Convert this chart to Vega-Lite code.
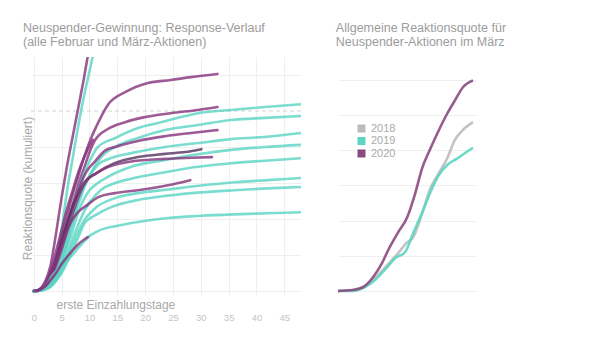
{
  "$schema": "https://vega.github.io/schema/vega-lite/v6.json",
  "background": "white",
  "padding": {"left": 21, "top": 21, "right": 5, "bottom": 5},
  "config": {
    "view": {"stroke": null},
    "font": "Liberation Sans",
    "axis": {"gridColor": "#efefef", "domain": false, "ticks": false},
    "title": {"color": "#9c9c9c", "fontSize": 12.5, "fontWeight": "normal", "anchor": "start", "lineHeight": 14, "offset": 9}
  },
  "datasets": {
    "links": [
      {"id": "P1", "typ": "p", "d": 0, "v": 0}, {"id": "P1", "typ": "p", "d": 1, "v": 0.05}, {"id": "P1", "typ": "p", "d": 2, "v": 0.25}, {"id": "P1", "typ": "p", "d": 3, "v": 0.7}, {"id": "P1", "typ": "p", "d": 4, "v": 1.6}, {"id": "P1", "typ": "p", "d": 5, "v": 2.6}, {"id": "P1", "typ": "p", "d": 6, "v": 3.5}, {"id": "P1", "typ": "p", "d": 7, "v": 4.3}, {"id": "P1", "typ": "p", "d": 8, "v": 5.1}, {"id": "P1", "typ": "p", "d": 9, "v": 5.9}, {"id": "P1", "typ": "p", "d": 10, "v": 6.8},
      {"id": "T1", "typ": "t", "d": 0, "v": 0}, {"id": "T1", "typ": "t", "d": 1, "v": 0.02}, {"id": "T1", "typ": "t", "d": 2, "v": 0.1}, {"id": "T1", "typ": "t", "d": 3, "v": 0.35}, {"id": "T1", "typ": "t", "d": 4, "v": 0.9}, {"id": "T1", "typ": "t", "d": 5, "v": 1.7}, {"id": "T1", "typ": "t", "d": 6, "v": 2.8}, {"id": "T1", "typ": "t", "d": 7, "v": 3.7}, {"id": "T1", "typ": "t", "d": 8, "v": 4.6}, {"id": "T1", "typ": "t", "d": 9, "v": 5.4}, {"id": "T1", "typ": "t", "d": 10, "v": 6.1}, {"id": "T1", "typ": "t", "d": 11, "v": 6.8},
      {"id": "P2", "typ": "p", "d": 0, "v": 0}, {"id": "P2", "typ": "p", "d": 1, "v": 0.02}, {"id": "P2", "typ": "p", "d": 2, "v": 0.15}, {"id": "P2", "typ": "p", "d": 3, "v": 0.45}, {"id": "P2", "typ": "p", "d": 4, "v": 0.9}, {"id": "P2", "typ": "p", "d": 5, "v": 1.5}, {"id": "P2", "typ": "p", "d": 6, "v": 2.1}, {"id": "P2", "typ": "p", "d": 7, "v": 2.7}, {"id": "P2", "typ": "p", "d": 8, "v": 3.2}, {"id": "P2", "typ": "p", "d": 9, "v": 3.7}, {"id": "P2", "typ": "p", "d": 10.3, "v": 4.25}, {"id": "P2", "typ": "p", "d": 11.2, "v": 4.56}, {"id": "P2", "typ": "p", "d": 13.3, "v": 5.17}, {"id": "P2", "typ": "p", "d": 16.5, "v": 5.53}, {"id": "P2", "typ": "p", "d": 20.5, "v": 5.78}, {"id": "P2", "typ": "p", "d": 24.6, "v": 5.86}, {"id": "P2", "typ": "p", "d": 28.2, "v": 5.94}, {"id": "P2", "typ": "p", "d": 33, "v": 6.03},
      {"id": "P3", "typ": "p", "d": 0, "v": 0}, {"id": "P3", "typ": "p", "d": 1, "v": 0.02}, {"id": "P3", "typ": "p", "d": 2, "v": 0.12}, {"id": "P3", "typ": "p", "d": 3, "v": 0.35}, {"id": "P3", "typ": "p", "d": 4, "v": 0.75}, {"id": "P3", "typ": "p", "d": 5, "v": 1.25}, {"id": "P3", "typ": "p", "d": 6, "v": 1.8}, {"id": "P3", "typ": "p", "d": 7, "v": 2.4}, {"id": "P3", "typ": "p", "d": 8, "v": 2.95}, {"id": "P3", "typ": "p", "d": 9, "v": 3.4}, {"id": "P3", "typ": "p", "d": 10, "v": 3.85}, {"id": "P3", "typ": "p", "d": 11, "v": 4.19}, {"id": "P3", "typ": "p", "d": 13.3, "v": 4.5}, {"id": "P3", "typ": "p", "d": 16.4, "v": 4.69}, {"id": "P3", "typ": "p", "d": 19.9, "v": 4.83}, {"id": "P3", "typ": "p", "d": 24.6, "v": 4.94}, {"id": "P3", "typ": "p", "d": 29.5, "v": 5.03}, {"id": "P3", "typ": "p", "d": 33, "v": 5.11},
      {"id": "T2", "typ": "t", "d": 0, "v": 0}, {"id": "T2", "typ": "t", "d": 1, "v": 0.01}, {"id": "T2", "typ": "t", "d": 2, "v": 0.08}, {"id": "T2", "typ": "t", "d": 3, "v": 0.25}, {"id": "T2", "typ": "t", "d": 4, "v": 0.6}, {"id": "T2", "typ": "t", "d": 5, "v": 1.1}, {"id": "T2", "typ": "t", "d": 6, "v": 1.7}, {"id": "T2", "typ": "t", "d": 7, "v": 2.3}, {"id": "T2", "typ": "t", "d": 8, "v": 2.8}, {"id": "T2", "typ": "t", "d": 9, "v": 3.25}, {"id": "T2", "typ": "t", "d": 10, "v": 3.6}, {"id": "T2", "typ": "t", "d": 11.5, "v": 4}, {"id": "T2", "typ": "t", "d": 14.6, "v": 4.25}, {"id": "T2", "typ": "t", "d": 18.7, "v": 4.53}, {"id": "T2", "typ": "t", "d": 22.3, "v": 4.67}, {"id": "T2", "typ": "t", "d": 25.9, "v": 4.81}, {"id": "T2", "typ": "t", "d": 29.5, "v": 4.94}, {"id": "T2", "typ": "t", "d": 35.4, "v": 5.03}, {"id": "T2", "typ": "t", "d": 41.5, "v": 5.11}, {"id": "T2", "typ": "t", "d": 48, "v": 5.19},
      {"id": "T3", "typ": "t", "d": 0, "v": 0}, {"id": "T3", "typ": "t", "d": 1, "v": 0.01}, {"id": "T3", "typ": "t", "d": 2, "v": 0.06}, {"id": "T3", "typ": "t", "d": 3, "v": 0.2}, {"id": "T3", "typ": "t", "d": 4, "v": 0.45}, {"id": "T3", "typ": "t", "d": 5, "v": 0.85}, {"id": "T3", "typ": "t", "d": 6, "v": 1.35}, {"id": "T3", "typ": "t", "d": 7, "v": 1.9}, {"id": "T3", "typ": "t", "d": 8, "v": 2.4}, {"id": "T3", "typ": "t", "d": 9, "v": 2.85}, {"id": "T3", "typ": "t", "d": 10, "v": 3.2}, {"id": "T3", "typ": "t", "d": 12, "v": 3.7}, {"id": "T3", "typ": "t", "d": 14.6, "v": 4}, {"id": "T3", "typ": "t", "d": 18.7, "v": 4.25}, {"id": "T3", "typ": "t", "d": 23.6, "v": 4.47}, {"id": "T3", "typ": "t", "d": 29.5, "v": 4.61}, {"id": "T3", "typ": "t", "d": 35.4, "v": 4.75}, {"id": "T3", "typ": "t", "d": 41.5, "v": 4.81}, {"id": "T3", "typ": "t", "d": 48, "v": 4.86},
      {"id": "P4", "typ": "p", "d": 0, "v": 0}, {"id": "P4", "typ": "p", "d": 1, "v": 0.03}, {"id": "P4", "typ": "p", "d": 2, "v": 0.15}, {"id": "P4", "typ": "p", "d": 3, "v": 0.4}, {"id": "P4", "typ": "p", "d": 4, "v": 0.8}, {"id": "P4", "typ": "p", "d": 5, "v": 1.3}, {"id": "P4", "typ": "p", "d": 6, "v": 1.85}, {"id": "P4", "typ": "p", "d": 7, "v": 2.35}, {"id": "P4", "typ": "p", "d": 8, "v": 2.8}, {"id": "P4", "typ": "p", "d": 9.4, "v": 3.3}, {"id": "P4", "typ": "p", "d": 11, "v": 3.6}, {"id": "P4", "typ": "p", "d": 12.8, "v": 3.9}, {"id": "P4", "typ": "p", "d": 14.6, "v": 4.0}, {"id": "P4", "typ": "p", "d": 18.7, "v": 4.17}, {"id": "P4", "typ": "p", "d": 23.6, "v": 4.3}, {"id": "P4", "typ": "p", "d": 28.3, "v": 4.39}, {"id": "P4", "typ": "p", "d": 33, "v": 4.47},
      {"id": "T4", "typ": "t", "d": 0, "v": 0}, {"id": "T4", "typ": "t", "d": 1, "v": 0.01}, {"id": "T4", "typ": "t", "d": 2, "v": 0.07}, {"id": "T4", "typ": "t", "d": 3, "v": 0.22}, {"id": "T4", "typ": "t", "d": 4, "v": 0.5}, {"id": "T4", "typ": "t", "d": 5, "v": 0.9}, {"id": "T4", "typ": "t", "d": 6, "v": 1.45}, {"id": "T4", "typ": "t", "d": 7, "v": 2.0}, {"id": "T4", "typ": "t", "d": 8, "v": 2.5}, {"id": "T4", "typ": "t", "d": 9, "v": 2.9}, {"id": "T4", "typ": "t", "d": 10, "v": 3.2}, {"id": "T4", "typ": "t", "d": 11.5, "v": 3.5}, {"id": "T4", "typ": "t", "d": 14, "v": 3.7}, {"id": "T4", "typ": "t", "d": 17.5, "v": 3.83}, {"id": "T4", "typ": "t", "d": 23.6, "v": 4}, {"id": "T4", "typ": "t", "d": 29.5, "v": 4.11}, {"id": "T4", "typ": "t", "d": 35.4, "v": 4.22}, {"id": "T4", "typ": "t", "d": 41.5, "v": 4.28}, {"id": "T4", "typ": "t", "d": 48, "v": 4.39},
      {"id": "T5", "typ": "t", "d": 0, "v": 0}, {"id": "T5", "typ": "t", "d": 1, "v": 0.01}, {"id": "T5", "typ": "t", "d": 2, "v": 0.05}, {"id": "T5", "typ": "t", "d": 3, "v": 0.18}, {"id": "T5", "typ": "t", "d": 4, "v": 0.4}, {"id": "T5", "typ": "t", "d": 5, "v": 0.75}, {"id": "T5", "typ": "t", "d": 6, "v": 1.2}, {"id": "T5", "typ": "t", "d": 7, "v": 1.7}, {"id": "T5", "typ": "t", "d": 8, "v": 2.2}, {"id": "T5", "typ": "t", "d": 9, "v": 2.55}, {"id": "T5", "typ": "t", "d": 10, "v": 2.8}, {"id": "T5", "typ": "t", "d": 11.5, "v": 3.0}, {"id": "T5", "typ": "t", "d": 13.3, "v": 3.17}, {"id": "T5", "typ": "t", "d": 17.5, "v": 3.45}, {"id": "T5", "typ": "t", "d": 23.6, "v": 3.64}, {"id": "T5", "typ": "t", "d": 29.5, "v": 3.8}, {"id": "T5", "typ": "t", "d": 35.4, "v": 3.92}, {"id": "T5", "typ": "t", "d": 41.5, "v": 4}, {"id": "T5", "typ": "t", "d": 48, "v": 4.06},
      {"id": "D1", "typ": "d", "d": 0, "v": 0}, {"id": "D1", "typ": "d", "d": 1, "v": 0.03}, {"id": "D1", "typ": "d", "d": 2, "v": 0.15}, {"id": "D1", "typ": "d", "d": 3, "v": 0.45}, {"id": "D1", "typ": "d", "d": 4, "v": 0.9}, {"id": "D1", "typ": "d", "d": 5, "v": 1.4}, {"id": "D1", "typ": "d", "d": 6, "v": 1.9}, {"id": "D1", "typ": "d", "d": 7, "v": 2.35}, {"id": "D1", "typ": "d", "d": 8, "v": 2.7}, {"id": "D1", "typ": "d", "d": 9, "v": 3.0}, {"id": "D1", "typ": "d", "d": 11, "v": 3.25}, {"id": "D1", "typ": "d", "d": 14.6, "v": 3.56}, {"id": "D1", "typ": "d", "d": 18.7, "v": 3.72}, {"id": "D1", "typ": "d", "d": 23.6, "v": 3.81}, {"id": "D1", "typ": "d", "d": 27.2, "v": 3.86}, {"id": "D1", "typ": "d", "d": 30.1, "v": 3.94},
      {"id": "P5", "typ": "p", "d": 0, "v": 0}, {"id": "P5", "typ": "p", "d": 1, "v": 0.03}, {"id": "P5", "typ": "p", "d": 2, "v": 0.12}, {"id": "P5", "typ": "p", "d": 3, "v": 0.35}, {"id": "P5", "typ": "p", "d": 4, "v": 0.7}, {"id": "P5", "typ": "p", "d": 5, "v": 1.15}, {"id": "P5", "typ": "p", "d": 6, "v": 1.65}, {"id": "P5", "typ": "p", "d": 7, "v": 2.15}, {"id": "P5", "typ": "p", "d": 8, "v": 2.6}, {"id": "P5", "typ": "p", "d": 9, "v": 2.95}, {"id": "P5", "typ": "p", "d": 10, "v": 3.15}, {"id": "P5", "typ": "p", "d": 11, "v": 3.25}, {"id": "P5", "typ": "p", "d": 13.3, "v": 3.44}, {"id": "P5", "typ": "p", "d": 17.5, "v": 3.6}, {"id": "P5", "typ": "p", "d": 23.6, "v": 3.67}, {"id": "P5", "typ": "p", "d": 28.3, "v": 3.7}, {"id": "P5", "typ": "p", "d": 32, "v": 3.72},
      {"id": "T6", "typ": "t", "d": 0, "v": 0}, {"id": "T6", "typ": "t", "d": 1, "v": 0.01}, {"id": "T6", "typ": "t", "d": 2, "v": 0.05}, {"id": "T6", "typ": "t", "d": 3, "v": 0.15}, {"id": "T6", "typ": "t", "d": 4, "v": 0.35}, {"id": "T6", "typ": "t", "d": 5, "v": 0.65}, {"id": "T6", "typ": "t", "d": 6, "v": 1.0}, {"id": "T6", "typ": "t", "d": 7, "v": 1.45}, {"id": "T6", "typ": "t", "d": 8, "v": 1.85}, {"id": "T6", "typ": "t", "d": 9, "v": 2.2}, {"id": "T6", "typ": "t", "d": 10, "v": 2.45}, {"id": "T6", "typ": "t", "d": 12, "v": 2.8}, {"id": "T6", "typ": "t", "d": 14.6, "v": 3.0}, {"id": "T6", "typ": "t", "d": 17.5, "v": 3.12}, {"id": "T6", "typ": "t", "d": 23.6, "v": 3.3}, {"id": "T6", "typ": "t", "d": 29.5, "v": 3.45}, {"id": "T6", "typ": "t", "d": 35.4, "v": 3.55}, {"id": "T6", "typ": "t", "d": 41.5, "v": 3.62}, {"id": "T6", "typ": "t", "d": 48, "v": 3.69},
      {"id": "P6", "typ": "p", "d": 0, "v": 0}, {"id": "P6", "typ": "p", "d": 1, "v": 0.04}, {"id": "P6", "typ": "p", "d": 2, "v": 0.18}, {"id": "P6", "typ": "p", "d": 3, "v": 0.45}, {"id": "P6", "typ": "p", "d": 4, "v": 0.85}, {"id": "P6", "typ": "p", "d": 5, "v": 1.3}, {"id": "P6", "typ": "p", "d": 6, "v": 1.7}, {"id": "P6", "typ": "p", "d": 7, "v": 2.0}, {"id": "P6", "typ": "p", "d": 8, "v": 2.2}, {"id": "P6", "typ": "p", "d": 9.7, "v": 2.4}, {"id": "P6", "typ": "p", "d": 11.5, "v": 2.6}, {"id": "P6", "typ": "p", "d": 14.6, "v": 2.72}, {"id": "P6", "typ": "p", "d": 18.7, "v": 2.8}, {"id": "P6", "typ": "p", "d": 24.1, "v": 2.94}, {"id": "P6", "typ": "p", "d": 28.1, "v": 3.08},
      {"id": "T7", "typ": "t", "d": 0, "v": 0}, {"id": "T7", "typ": "t", "d": 1, "v": 0.01}, {"id": "T7", "typ": "t", "d": 2, "v": 0.04}, {"id": "T7", "typ": "t", "d": 3, "v": 0.12}, {"id": "T7", "typ": "t", "d": 4, "v": 0.3}, {"id": "T7", "typ": "t", "d": 5, "v": 0.55}, {"id": "T7", "typ": "t", "d": 6, "v": 0.9}, {"id": "T7", "typ": "t", "d": 7, "v": 1.3}, {"id": "T7", "typ": "t", "d": 8, "v": 1.65}, {"id": "T7", "typ": "t", "d": 9, "v": 1.95}, {"id": "T7", "typ": "t", "d": 11, "v": 2.3}, {"id": "T7", "typ": "t", "d": 14.6, "v": 2.58}, {"id": "T7", "typ": "t", "d": 18.7, "v": 2.72}, {"id": "T7", "typ": "t", "d": 24.1, "v": 2.82}, {"id": "T7", "typ": "t", "d": 30, "v": 2.93}, {"id": "T7", "typ": "t", "d": 36, "v": 3.02}, {"id": "T7", "typ": "t", "d": 42, "v": 3.08}, {"id": "T7", "typ": "t", "d": 48, "v": 3.14},
      {"id": "T8", "typ": "t", "d": 0, "v": 0}, {"id": "T8", "typ": "t", "d": 1, "v": 0.01}, {"id": "T8", "typ": "t", "d": 2, "v": 0.04}, {"id": "T8", "typ": "t", "d": 3, "v": 0.12}, {"id": "T8", "typ": "t", "d": 4, "v": 0.28}, {"id": "T8", "typ": "t", "d": 5, "v": 0.5}, {"id": "T8", "typ": "t", "d": 6, "v": 0.8}, {"id": "T8", "typ": "t", "d": 7, "v": 1.15}, {"id": "T8", "typ": "t", "d": 8, "v": 1.5}, {"id": "T8", "typ": "t", "d": 9.2, "v": 1.9}, {"id": "T8", "typ": "t", "d": 11, "v": 2.1}, {"id": "T8", "typ": "t", "d": 13.9, "v": 2.33}, {"id": "T8", "typ": "t", "d": 18.7, "v": 2.53}, {"id": "T8", "typ": "t", "d": 24.1, "v": 2.65}, {"id": "T8", "typ": "t", "d": 30, "v": 2.74}, {"id": "T8", "typ": "t", "d": 36, "v": 2.8}, {"id": "T8", "typ": "t", "d": 42, "v": 2.85}, {"id": "T8", "typ": "t", "d": 48, "v": 2.89},
      {"id": "T9", "typ": "t", "d": 0, "v": 0}, {"id": "T9", "typ": "t", "d": 1, "v": 0.01}, {"id": "T9", "typ": "t", "d": 2.6, "v": 0.3}, {"id": "T9", "typ": "t", "d": 4, "v": 0.55}, {"id": "T9", "typ": "t", "d": 6.2, "v": 0.86}, {"id": "T9", "typ": "t", "d": 8, "v": 1.2}, {"id": "T9", "typ": "t", "d": 10.3, "v": 1.56}, {"id": "T9", "typ": "t", "d": 12, "v": 1.7}, {"id": "T9", "typ": "t", "d": 14.6, "v": 1.8}, {"id": "T9", "typ": "t", "d": 18.7, "v": 1.92}, {"id": "T9", "typ": "t", "d": 24.1, "v": 2.03}, {"id": "T9", "typ": "t", "d": 30, "v": 2.09}, {"id": "T9", "typ": "t", "d": 36, "v": 2.13}, {"id": "T9", "typ": "t", "d": 42, "v": 2.16}, {"id": "T9", "typ": "t", "d": 48, "v": 2.19},
      {"id": "P7", "typ": "p", "d": 0.5, "v": 0}, {"id": "P7", "typ": "p", "d": 2, "v": 0.12}, {"id": "P7", "typ": "p", "d": 3, "v": 0.3}, {"id": "P7", "typ": "p", "d": 4, "v": 0.5}, {"id": "P7", "typ": "p", "d": 5, "v": 0.75}, {"id": "P7", "typ": "p", "d": 6.7, "v": 1.08}, {"id": "P7", "typ": "p", "d": 8, "v": 1.3}, {"id": "P7", "typ": "p", "d": 9.7, "v": 1.5},
      {"id": "P8", "typ": "p", "d": 0, "v": 0}, {"id": "P8", "typ": "p", "d": 1, "v": 0.03}, {"id": "P8", "typ": "p", "d": 2, "v": 0.2}, {"id": "P8", "typ": "p", "d": 3, "v": 0.55}, {"id": "P8", "typ": "p", "d": 4, "v": 1.1}, {"id": "P8", "typ": "p", "d": 5, "v": 1.7}, {"id": "P8", "typ": "p", "d": 6, "v": 2.3}, {"id": "P8", "typ": "p", "d": 7, "v": 2.8}, {"id": "P8", "typ": "p", "d": 8, "v": 3.3}, {"id": "P8", "typ": "p", "d": 9, "v": 3.7}, {"id": "P8", "typ": "p", "d": 10.6, "v": 4.2}
    ],
    "rechts": [
      {"jahr": "2018", "d": 0, "v": 0}, {"jahr": "2018", "d": 3, "v": 0.03}, {"jahr": "2018", "d": 5.4, "v": 0.14}, {"jahr": "2018", "d": 7.4, "v": 0.37}, {"jahr": "2018", "d": 9.8, "v": 0.73}, {"jahr": "2018", "d": 12, "v": 1.07}, {"jahr": "2018", "d": 13.8, "v": 1.38}, {"jahr": "2018", "d": 15, "v": 1.52}, {"jahr": "2018", "d": 16.8, "v": 2.19}, {"jahr": "2018", "d": 18.4, "v": 2.89}, {"jahr": "2018", "d": 20, "v": 3.31}, {"jahr": "2018", "d": 21.8, "v": 3.76}, {"jahr": "2018", "d": 23.4, "v": 4.3}, {"jahr": "2018", "d": 25, "v": 4.58}, {"jahr": "2018", "d": 27, "v": 4.8},
      {"jahr": "2019", "d": 0, "v": 0}, {"jahr": "2019", "d": 3, "v": 0}, {"jahr": "2019", "d": 5.4, "v": 0.11}, {"jahr": "2019", "d": 7.4, "v": 0.31}, {"jahr": "2019", "d": 9.8, "v": 0.67}, {"jahr": "2019", "d": 11.4, "v": 0.93}, {"jahr": "2019", "d": 13.4, "v": 1.1}, {"jahr": "2019", "d": 15, "v": 1.63}, {"jahr": "2019", "d": 16.8, "v": 2.22}, {"jahr": "2019", "d": 18.4, "v": 2.78}, {"jahr": "2019", "d": 20, "v": 3.26}, {"jahr": "2019", "d": 22, "v": 3.6}, {"jahr": "2019", "d": 23.8, "v": 3.76}, {"jahr": "2019", "d": 25, "v": 3.88}, {"jahr": "2019", "d": 27, "v": 4.07},
      {"jahr": "2020", "d": 0, "v": 0}, {"jahr": "2020", "d": 3, "v": 0.03}, {"jahr": "2020", "d": 5, "v": 0.11}, {"jahr": "2020", "d": 7, "v": 0.39}, {"jahr": "2020", "d": 8.8, "v": 0.79}, {"jahr": "2020", "d": 10, "v": 1.15}, {"jahr": "2020", "d": 12, "v": 1.66}, {"jahr": "2020", "d": 13.8, "v": 2.08}, {"jahr": "2020", "d": 15.4, "v": 2.75}, {"jahr": "2020", "d": 16.8, "v": 3.48}, {"jahr": "2020", "d": 18.4, "v": 4.02}, {"jahr": "2020", "d": 20, "v": 4.52}, {"jahr": "2020", "d": 21.8, "v": 5.03}, {"jahr": "2020", "d": 23.4, "v": 5.42}, {"jahr": "2020", "d": 25, "v": 5.79}, {"jahr": "2020", "d": 27, "v": 5.98}
    ]
  },
  "spacing": 30,
  "hconcat": [
    {
      "width": 270,
      "height": 238,
      "title": {"text": ["Neuspender-Gewinnung: Response-Verlauf", "(alle Februar und März-Aktionen)"], "dx": 2},
      "encoding": {
        "y": {"field": "v", "type": "quantitative", "scale": {"domain": [-0.11, 6.5], "nice": false, "zero": false},
          "axis": {"title": "Reaktionsquote (kumuliert)", "labels": false, "grid": true, "values": [0, 1, 2, 3, 4, 6], "titleColor": "#a8a8a8", "titleFontSize": 12, "titleFontWeight": "normal", "titleX": 3, "titleY": 131, "titleBaseline": "bottom"}}
      },
      "layer": [
        {
          "data": {"values": [{"v": 5}]},
          "mark": {"type": "rule", "strokeDash": [4, 3], "color": "#d2d2d2", "strokeWidth": 1}
        },
        {
          "data": {"name": "links"},
          "mark": {"type": "line", "strokeWidth": 2.6, "opacity": 0.8, "clip": true, "strokeCap": "round", "interpolate": "monotone"},
          "encoding": {
            "x": {"field": "d", "type": "quantitative", "scale": {"domain": [-0.5, 48], "nice": false, "zero": false},
              "axis": {"title": "erste Einzahlungstage", "values": [0, 5, 10, 15, 20, 25, 30, 35, 40, 45], "grid": true, "labelColor": "#c4c4c4", "labelFontSize": 9.5, "labelPadding": 17, "titleColor": "#a8a8a8", "titleFontSize": 12, "titleFontWeight": "normal", "titleX": 25, "titleY": 9, "titleAlign": "left", "titleBaseline": "middle"}},
            "detail": {"field": "id"},
            "color": {"field": "typ", "type": "nominal", "scale": {"domain": ["t", "p", "d"], "range": ["#5ad5c3", "#84327a", "#55305f"]}, "legend": null}
          }
        }
      ]
    },
    {
      "width": 138,
      "height": 238,
      "title": {"text": ["Allgemeine Reaktionsquote für", "Neuspender-Aktionen im März"], "dx": 3},
      "data": {"name": "rechts"},
      "mark": {"type": "line", "strokeWidth": 2.6, "interpolate": "monotone", "opacity": 0.9},
      "encoding": {
        "x": {"field": "d", "type": "quantitative", "scale": {"domain": [0, 27.6], "nice": false}, "axis": null},
        "y": {"field": "v", "type": "quantitative", "scale": {"domain": [-0.114, 6.65], "nice": false, "zero": false},
          "axis": {"title": null, "labels": false, "grid": true, "values": [0, 1, 2, 3, 4, 5, 6]}},
        "color": {"field": "jahr", "type": "nominal", "scale": {"domain": ["2018", "2019", "2020"], "range": ["#bcbcbc", "#5dd5c3", "#8a4a7f"]},
          "legend": {"orient": "none", "legendX": 18, "legendY": 66, "title": null, "symbolType": "square", "symbolSize": 64, "symbolStrokeWidth": 0, "symbolOpacity": 1, "labelColor": "#aaaaaa", "labelFontSize": 11, "rowPadding": 0.5, "labelOffset": 4,
            "encode": {"symbols": {"update": {"fill": {"signal": "datum.value === '2018' ? '#bcbcbc' : datum.value === '2019' ? '#5dd5c3' : '#8a4a7f'"}}}}}}
      }
    }
  ],
  "resolve": {"scale": {"color": "independent"}}
}
